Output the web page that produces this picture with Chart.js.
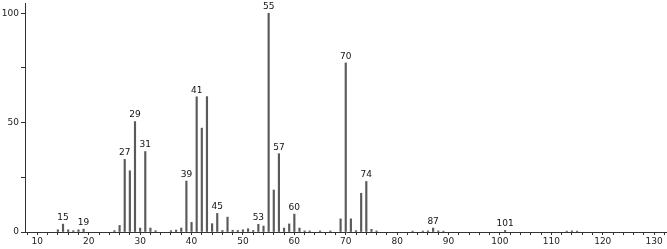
<!DOCTYPE html>
<html>
<head>
<meta charset="utf-8">
<script src="https://cdn.jsdelivr.net/npm/chart.js@4"></script>
<style>
  html, body { margin: 0; padding: 0; background: #fff; }
  #wrap { width: 667px; height: 249px; }
</style>
</head>
<body>
<div id="wrap"><canvas id="spectrum"></canvas></div>
<script>
const mz = [14, 15, 16, 17, 18, 19, 25, 26, 27, 28, 29, 30, 31, 32, 33, 36, 37, 38, 39, 40,
  41, 42, 43, 44, 45, 46, 47, 48, 49, 50, 51, 52, 53, 54, 55, 56, 57, 58, 59, 60,
  61, 62, 63, 65, 67, 69, 70, 71, 72, 73, 74, 75, 76, 83, 85, 86, 87, 88, 89, 101,
  113, 114, 115];
const intensity = [1.0, 3.6, 1.0, 0.6, 1.0, 1.3, 0.6, 3.0, 33.2, 28.0, 50.5, 1.8, 36.8, 1.8, 0.6, 0.6, 0.9, 1.8, 23.3, 4.4,
  61.8, 47.5, 61.9, 3.8, 8.5, 0.7, 6.8, 0.8, 0.7, 1.0, 1.5, 0.7, 3.5, 2.7, 100, 19.2, 35.8, 1.8, 3.7, 8.2,
  1.8, 0.5, 0.5, 0.5, 0.5, 6.0, 77.3, 6.0, 0.6, 17.7, 23.1, 1.2, 0.5, 0.4, 0.4, 0.5, 1.8, 0.5, 0.4, 0.7,
  0.4, 0.5, 0.4];
const labeledPeaks = [15, 19, 27, 29, 31, 39, 41, 45, 53, 55, 57, 60, 70, 74, 87, 101];
const xTickValues = [];
for (let v = 8; v <= 132; v += 2) xTickValues.push(v);
const yTickValues = [0, 25, 50, 75, 100];
const yLabelValues = [0, 50, 100];

const points = mz.map((m, i) => ({ x: m, y: intensity[i] }));

const peakLabels = {
  id: 'peakLabels',
  afterDatasetsDraw(chart) {
    const ctx = chart.ctx;
    const xs = chart.scales.x, ys = chart.scales.y;
    ctx.save();
    ctx.font = '9px "DejaVu Sans"';
    ctx.fillStyle = '#111';
    ctx.textAlign = 'center';
    ctx.textBaseline = 'bottom';
    labeledPeaks.forEach(m => {
      const i = mz.indexOf(m);
      if (i < 0) return;
      ctx.fillText(String(m), xs.getPixelForValue(m), ys.getPixelForValue(intensity[i]) - 2);
    });
    ctx.restore();
  }
};

new Chart(document.getElementById('spectrum'), {
  type: 'bar',
  data: {
    datasets: [{
      data: points,
      backgroundColor: '#5a5a5a',
      barThickness: 1.5,
      borderWidth: 0
    }]
  },
  options: {
    responsive: true,
    maintainAspectRatio: false,
    animation: false,
    layout: { padding: { top: 3, right: 0, left: 0, bottom: 0 } },
    plugins: { legend: { display: false }, tooltip: { enabled: false } },
    scales: {
      x: {
        type: 'linear',
        offset: false,
        min: 7.6,
        max: 132.5,
        afterBuildTicks: s => { s.ticks = xTickValues.map(v => ({ value: v })); },
        afterFit: s => { s.height = 17; s.paddingLeft = 0; s.paddingRight = 0; },
        border: { display: true, color: '#333', width: 1 },
        grid: { display: true, offset: false, drawOnChartArea: false, drawTicks: true, tickLength: 3, color: '#333' },
        ticks: {
          autoSkip: false,
          maxRotation: 0,
          padding: 1,
          color: '#222',
          font: { family: 'DejaVu Sans', size: 9 },
          callback: v => (v % 10 === 0 ? String(v) : '')
        }
      },
      y: {
        min: 0,
        max: 104.7,
        afterBuildTicks: s => { s.ticks = yTickValues.map(v => ({ value: v })); },
        afterFit: s => { s.width = 25; s.paddingTop = 0; s.paddingBottom = 0; },
        border: { display: true, color: '#333', width: 1 },
        grid: { display: true, drawOnChartArea: false, drawTicks: true, tickLength: 4, color: '#333' },
        ticks: {
          autoSkip: false,
          padding: 2,
          color: '#222',
          font: { family: 'DejaVu Sans', size: 9 },
          callback: v => (yLabelValues.includes(v) ? String(v) : '')
        }
      }
    }
  },
  plugins: [peakLabels]
});
</script>
</body>
</html>
